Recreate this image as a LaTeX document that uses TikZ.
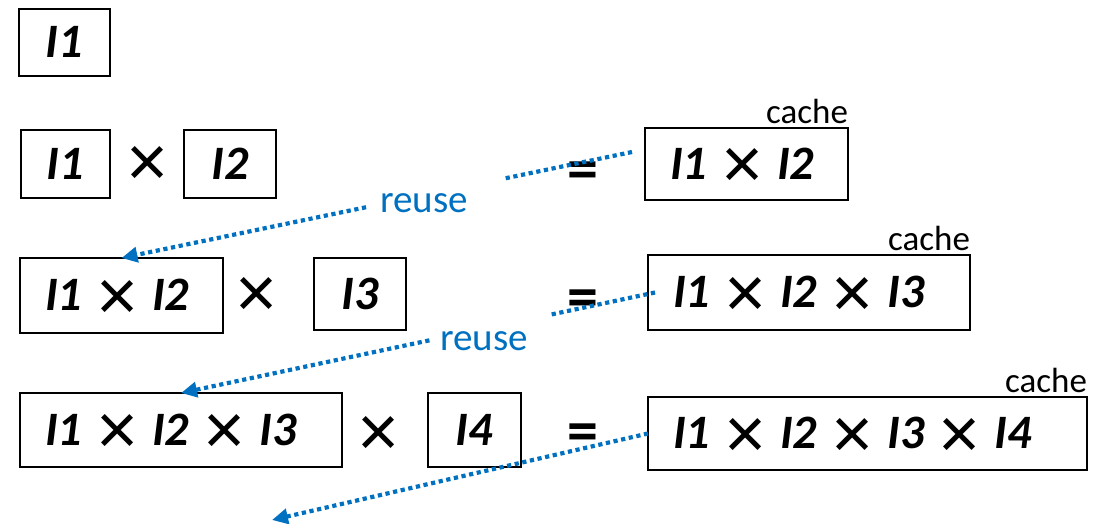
\documentclass[tikz,border=0pt]{standalone}
\usepackage{fontspec}
\setmainfont{Carlito}
\newfontfamily\crossfont{Liberation Sans}
\usetikzlibrary{arrows.meta}
\definecolor{reuseblue}{RGB}{0,112,192}
% multiplication sign, and the same sign set inline between operands
\newcommand{\mulsign}{{\crossfont\mdseries\upshape\fontsize{72}{72}\selectfont ×}}
\newcommand{\mul}{\hspace{14pt}\raisebox{-9.5pt}{\mulsign}\hspace{14pt}}
\begin{document}
\begin{tikzpicture}[x=1pt,y=-1pt,
  every node/.style={inner sep=0pt, outer sep=0pt},
  term/.style={draw=black, line width=2.6pt, font=\fontsize{48}{48}\selectfont\bfseries\itshape,
    text height=31pt, text depth=1pt, minimum height=#1},
  term/.default=68pt,
  leftterm/.style={term=#1, align=left, inner xsep=25pt},
  eqsign/.style={font=\fontsize{62}{62}\selectfont\bfseries},
  cachelbl/.style={font=\fontsize{35}{35}\selectfont, anchor=south east, yshift=4pt},
  reuselbl/.style={font=\fontsize{39}{39}\selectfont, text=reuseblue},
  reusearrow/.style={draw=reuseblue, line width=4.2pt, dash pattern=on 4.2pt off 3.6pt},
  tip/.style={-{Triangle[length=16pt,width=15pt]}}
]
\useasboundingbox (0,0) rectangle (1095,524);

% first operand
\node[term, minimum width=91pt, minimum height=67pt] (b0) at (64.5,42.5) {I1};

% I1 x I2
\node[term, minimum width=89pt] (r1a) at (65.5,164) {I1};
\node (r1x) at (148,166) {\mulsign};
\node[term, minimum width=92pt] (r1b) at (230,164) {I2};
\node[eqsign] (eq1) at (583,176) {=};
\node[leftterm=72pt, text width=153pt] (c1) at (746.5,164) {I1\mul I2};
\node[cachelbl] (k1) at (c1.north east) {cache};

% (I1 x I2) x I3
\node[leftterm=75pt, text width=153pt] (r2a) at (121.5,295.5) {I1\mul I2};
\node (r2x) at (257,297) {\mulsign};
\node[term, minimum width=92pt, minimum height=72pt] (r2b) at (360,294) {I3};
\node[eqsign] (eq2) at (583,304) {=};
\node[leftterm=75pt, text width=272pt] (c2) at (809,292.5) {I1\mul I2\mul I3};
\node[cachelbl] (k2) at (c2.north east) {cache};

% (I1 x I2 x I3) x I4
\node[leftterm=74pt, text width=272pt] (r3a) at (181,430) {I1\mul I2\mul I3};
\node (r3x) at (379,436) {\mulsign};
\node[term, minimum width=93pt, minimum height=74pt] (r3b) at (474.5,430) {I4};
\node[eqsign] (eq3) at (583,438) {=};
\node[leftterm=73pt, text width=389pt] (c3) at (867.5,433.5) {I1\mul I2\mul I3\mul I4};
\node[cachelbl] (k3) at (c3.north east) {cache};

% reuse labels
\node[reuselbl] (u1) at (424,203) {reuse};
\node[reuselbl] (u2) at (484,341) {reuse};

% reuse connectors, broken around their labels
\coordinate (s1) at ([xshift=-13pt,yshift=12pt]c1.west);
\path (s1) -- (r2a.north) coordinate[pos=0.248] (g1a) coordinate[pos=0.521] (g1b);
\draw[reusearrow] (s1) -- (g1a);
\draw[reusearrow, tip] (g1b) -- (r2a.north);

\coordinate (s2) at ([xshift=7pt]c2.west);
\path (s2) -- (r3a.north) coordinate[pos=0.224] (g2a) coordinate[pos=0.476] (g2b);
\draw[reusearrow] (s2) -- (g2a);
\draw[reusearrow, tip] (g2b) -- (r3a.north);

\coordinate (e3) at (272,520);
\draw[reusearrow, tip] (c3.west) -- (e3);
\end{tikzpicture}
\end{document}
